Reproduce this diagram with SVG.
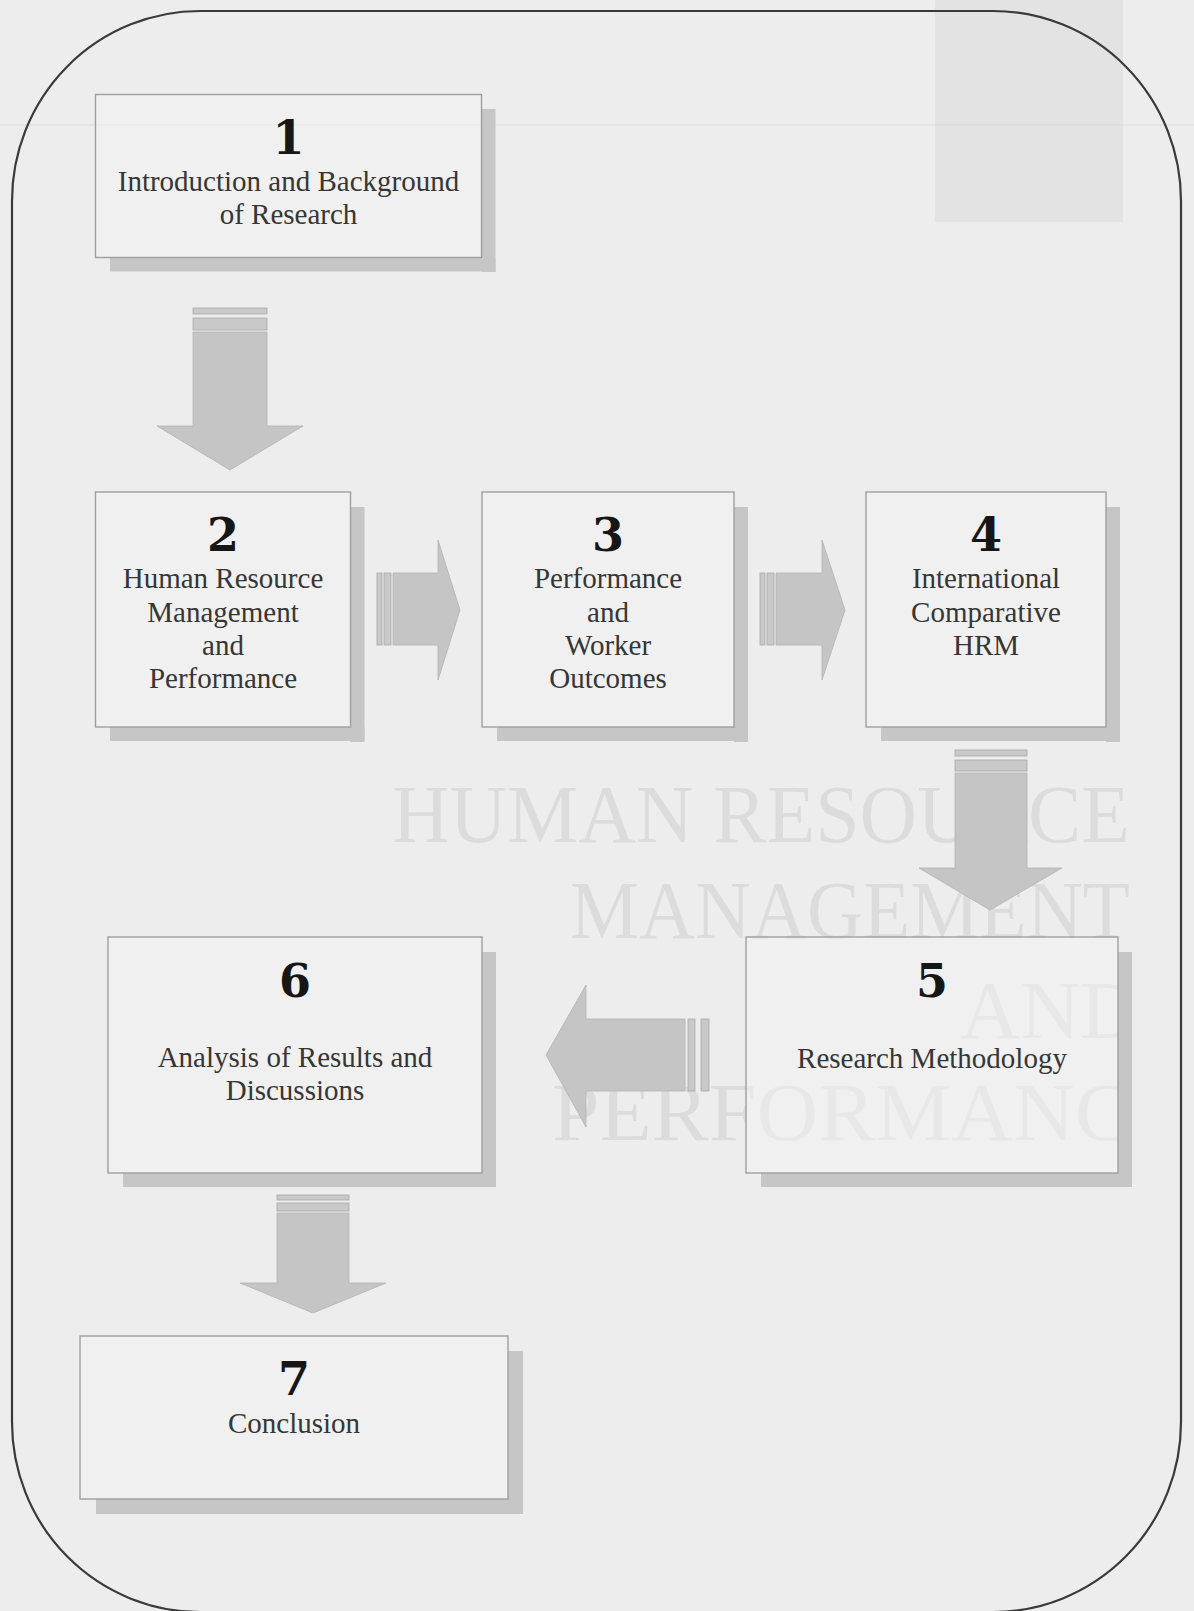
<svg xmlns="http://www.w3.org/2000/svg" width="1194" height="1611" viewBox="0 0 1194 1611">
  <defs>
    <style>
      .bg { fill: #ededed; }
      .frame { fill: none; stroke: #3a3a3a; stroke-width: 2.2; }
      .shadow { fill: #c6c6c6; }
      .box { fill: #f2f2f2; fill-opacity: 0.55; stroke: #9e9e9e; stroke-width: 1.4; }
      .num { font-family: "DejaVu Serif", "Liberation Serif", serif; font-weight: bold; font-size: 46px; fill: #161616; text-anchor: middle; }
      .lbl { font-family: "Liberation Serif", "Times New Roman", serif; font-size: 29px; fill: #363636; text-anchor: middle; }
      .arrow { fill: #c5c5c5; stroke: #b3b3b3; stroke-width: 0.8; }
      .stripe { fill: #c9c9c9; stroke: #a9a9a9; stroke-width: 0.8; }
      .ghost { font-family: "Liberation Serif", "Times New Roman", serif; font-size: 82px; fill: #000; fill-opacity: 0.07; }
    </style>
    <clipPath id="pageEdge">
      <rect x="0" y="0" width="1130" height="1611"/>
    </clipPath>
  </defs>

  <!-- paper -->
  <rect class="bg" x="0" y="0" width="1194" height="1611"/>
  <rect x="935" y="0" width="188" height="222" fill="#000" fill-opacity="0.04"/>
  <line x1="0" y1="125" x2="1194" y2="125" stroke="#000" stroke-opacity="0.035" stroke-width="2"/>

  <!-- faint title showing through the page -->
  <g id="ghost-title" clip-path="url(#pageEdge)">
    <text class="ghost" x="392" y="842" textLength="738" lengthAdjust="spacingAndGlyphs">HUMAN RESOURCE</text>
    <text class="ghost" x="570" y="938" textLength="560" lengthAdjust="spacingAndGlyphs">MANAGEMENT</text>
    <text class="ghost" x="960" y="1038" textLength="180" lengthAdjust="spacingAndGlyphs">AND</text>
    <text class="ghost" x="552" y="1140" textLength="632" lengthAdjust="spacingAndGlyphs">PERFORMANCE</text>
  </g>

  <!-- outer rounded frame -->
  <rect class="frame" x="12" y="11" width="1169" height="1601" rx="188" ry="190"/>

  <!-- chapter boxes -->
  <g id="node-1">
    <rect class="shadow" x="481.5" y="109" width="14" height="163"/>
    <rect class="shadow" x="110" y="257.5" width="385.5" height="14"/>
    <rect class="box" x="95.5" y="94.5" width="386" height="163"/>
    <text class="num" x="288.5" y="154">1</text>
    <text class="lbl" x="288.5" y="191">Introduction and Background</text>
    <text class="lbl" x="288.5" y="224">of Research</text>
  </g>

  <g id="node-2">
    <rect class="shadow" x="350.5" y="507" width="14" height="235"/>
    <rect class="shadow" x="110" y="727" width="254.5" height="14"/>
    <rect class="box" x="95.5" y="492" width="255" height="235"/>
    <text class="num" x="223" y="551">2</text>
    <text class="lbl" x="223" y="588">Human Resource</text>
    <text class="lbl" x="223" y="622">Management</text>
    <text class="lbl" x="223" y="655">and</text>
    <text class="lbl" x="223" y="688">Performance</text>
  </g>

  <g id="node-3">
    <rect class="shadow" x="734" y="507" width="14" height="235"/>
    <rect class="shadow" x="497" y="727" width="251" height="14"/>
    <rect class="box" x="482" y="492" width="252" height="235"/>
    <text class="num" x="608" y="551">3</text>
    <text class="lbl" x="608" y="588">Performance</text>
    <text class="lbl" x="608" y="622">and</text>
    <text class="lbl" x="608" y="655">Worker</text>
    <text class="lbl" x="608" y="688">Outcomes</text>
  </g>

  <g id="node-4">
    <rect class="shadow" x="1106" y="507" width="14" height="235"/>
    <rect class="shadow" x="881" y="727" width="239" height="14"/>
    <rect class="box" x="866" y="492" width="240" height="235"/>
    <text class="num" x="986" y="551">4</text>
    <text class="lbl" x="986" y="588">International</text>
    <text class="lbl" x="986" y="622">Comparative</text>
    <text class="lbl" x="986" y="655">HRM</text>
  </g>

  <g id="node-5">
    <rect class="shadow" x="1118" y="952" width="14" height="235"/>
    <rect class="shadow" x="761" y="1173" width="371" height="14"/>
    <rect class="box" x="746" y="937" width="372" height="236"/>
    <text class="num" x="932" y="997">5</text>
    <text class="lbl" x="932" y="1068">Research Methodology</text>
  </g>

  <g id="node-6">
    <rect class="shadow" x="482" y="952" width="14" height="235"/>
    <rect class="shadow" x="123" y="1173" width="373" height="14"/>
    <rect class="box" x="108" y="937" width="374" height="236"/>
    <text class="num" x="295" y="997">6</text>
    <text class="lbl" x="295" y="1067">Analysis of Results and</text>
    <text class="lbl" x="295" y="1100">Discussions</text>
  </g>

  <g id="node-7">
    <rect class="shadow" x="508" y="1351" width="15" height="163"/>
    <rect class="shadow" x="96" y="1499" width="427" height="15"/>
    <rect class="box" x="80" y="1336" width="428" height="163"/>
    <text class="num" x="294" y="1395">7</text>
    <text class="lbl" x="294" y="1433">Conclusion</text>
  </g>

  <!-- block arrows between chapters -->
  <g id="connectors">
    <!-- 1 to 2 -->
    <rect class="stripe" x="193" y="308" width="74" height="6"/>
    <rect class="stripe" x="193" y="318" width="74" height="12"/>
    <path class="arrow" d="M193,332 H267 V426 H303 L230,470 L157,426 H193 Z"/>

    <!-- 2 to 3 -->
    <rect class="stripe" x="377" y="573" width="5" height="72"/>
    <rect class="stripe" x="384" y="573" width="7" height="72"/>
    <path class="arrow" d="M393,573 H438 V540 L460,610 L438,680 V645 H393 Z"/>

    <!-- 3 to 4 -->
    <rect class="stripe" x="760" y="573" width="5" height="72"/>
    <rect class="stripe" x="767" y="573" width="7" height="72"/>
    <path class="arrow" d="M776,573 H822 V540 L845,610 L822,680 V645 H776 Z"/>

    <!-- 4 to 5 -->
    <rect class="stripe" x="955" y="750" width="72" height="6"/>
    <rect class="stripe" x="955" y="760" width="72" height="11"/>
    <path class="arrow" d="M955,773 H1027 V868 H1062 L990,910 L919,868 H955 Z"/>

    <!-- 5 to 6 -->
    <rect class="stripe" x="701" y="1019" width="8" height="72"/>
    <rect class="stripe" x="688" y="1019" width="7" height="72"/>
    <path class="arrow" d="M685,1019 H586 V985 L546,1055 L586,1127 V1091 H685 Z"/>

    <!-- 6 to 7 -->
    <rect class="stripe" x="277" y="1195" width="72" height="5"/>
    <rect class="stripe" x="277" y="1203" width="72" height="8"/>
    <path class="arrow" d="M277,1213 H349 V1283 H386 L313,1313 L240,1283 H277 Z"/>
  </g>
</svg>
